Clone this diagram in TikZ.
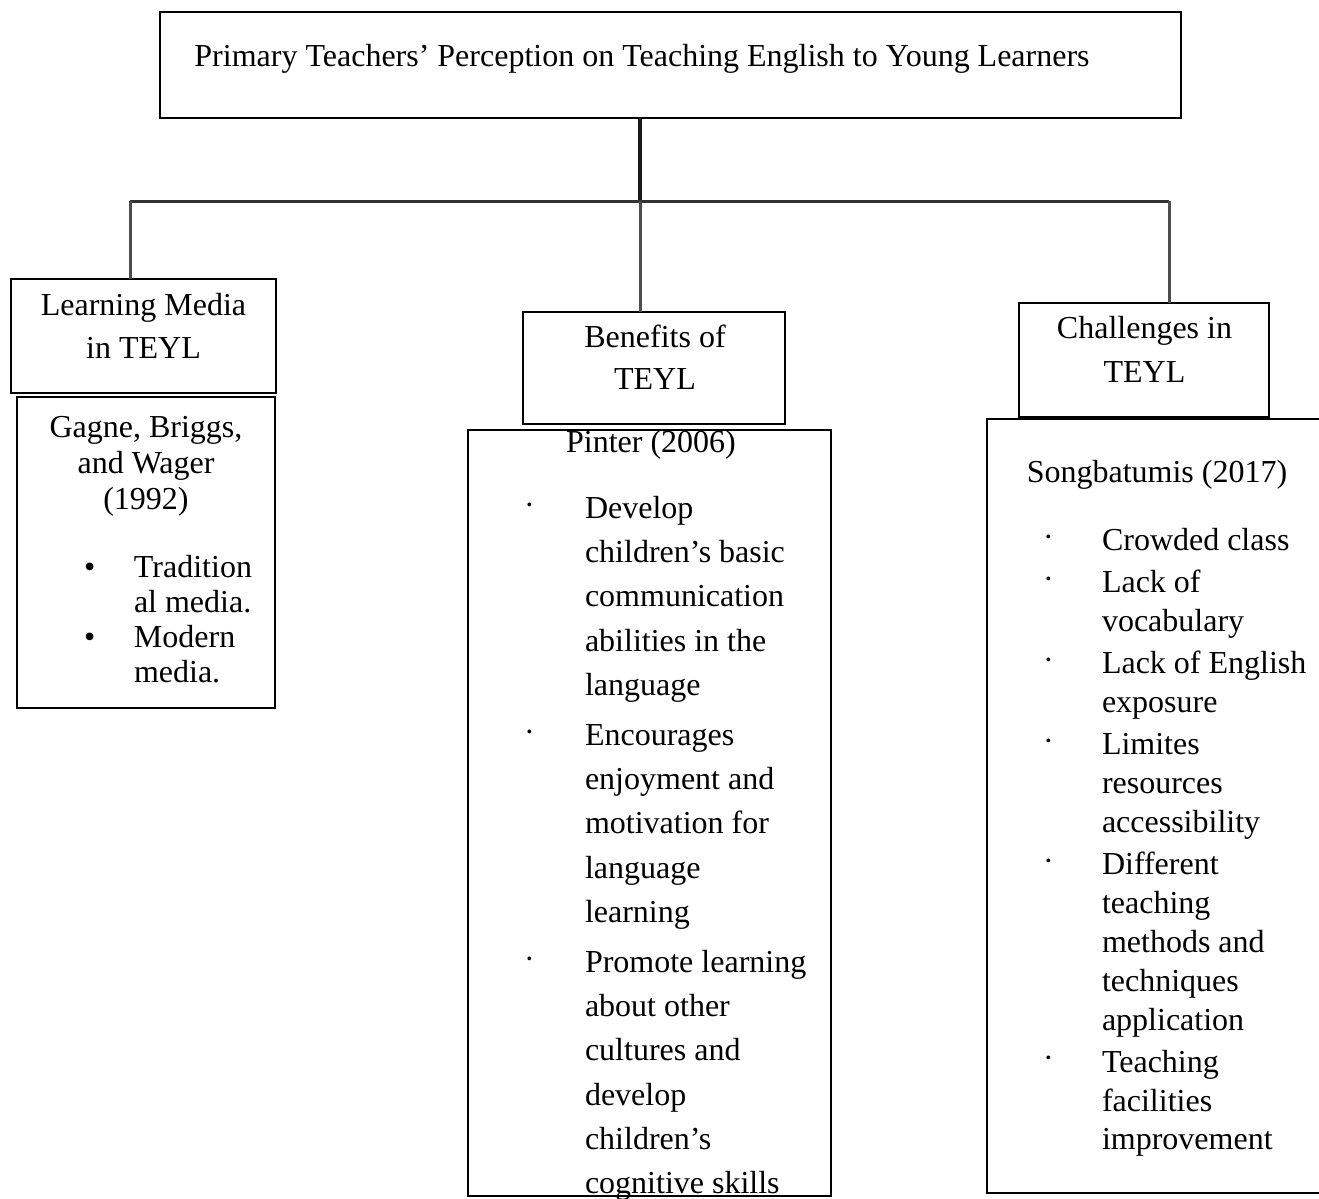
\documentclass[tikz,border=0pt]{standalone}
\usepackage{fontspec}
\setmainfont{Liberation Serif}
\usepackage{array}
\newcommand{\mystack}[2]{\fontsize{16}{#1}\selectfont\begin{tabular}[t]{@{}c@{}}#2\end{tabular}}
\newcommand{\mylist}[3]{\fontsize{16}{#1}\selectfont\begin{tabular}[t]{@{}p{#2}@{}l@{}}#3\end{tabular}}
\newcommand{\sdot}{\raisebox{1.5pt}{·}}
\begin{document}
\begin{tikzpicture}[x=0.5pt,y=-0.5pt,
  box/.style={draw=black, line width=1.3pt, inner sep=0pt, outer sep=0pt, anchor=north west},
  conn/.style={line width=1.5pt, draw=black!70},
  txt/.style={inner sep=0pt, outer sep=0pt, font=\fontsize{16}{19}\selectfont}]
\useasboundingbox (0,0) rectangle (1319,1199);
\clip (0,0) rectangle (1319,1199);
% boxes
\node[box, minimum width=510.5pt, minimum height=53pt] (top) at (160,12) {};
\node[box, minimum width=132.5pt, minimum height=57pt] (lm) at (11,279) {};
\node[box, minimum width=129pt, minimum height=155.5pt] (gw) at (17,397) {};
\node[box, minimum width=131pt, minimum height=56pt] (ben) at (523,312) {};
\node[box, minimum width=181.5pt, minimum height=383pt] (pin) at (468,430) {};
\node[box, minimum width=125pt, minimum height=57pt] (ch) at (1019,303) {};
\node[box, minimum width=180pt, minimum height=387pt] (song) at (987,419) {};
% connectors
\coordinate (hub) at (640,201);
\coordinate (jl) at (130,201);
\coordinate (jr) at (1169,201);
\draw[conn, draw=black!90, line width=1.7pt] (top.south -| hub) -- (hub);
\draw[conn, draw=black!80] (jl) -- (jr);
\draw[conn] (jl) -- (jl |- lm.north);
\draw[conn] (hub) -- (hub |- ben.north);
\draw[conn] (jr) -- (jr |- ch.north);
% texts
\node[txt, anchor=base] (toptxt) at (642,66) {Primary Teachers’ Perception on Teaching English to Young Learners};
\node[txt, anchor=base] (lmtxt) at (143.5,315) {\mystack{21.5pt}{Learning Media\\ in TEYL}};
\node[txt, anchor=base] (gwtxt) at (146,437) {\mystack{18pt}{Gagne, Briggs,\\ and Wager\\ (1992)}};
\node[txt, anchor=base west] (gwlist) at (84,577) {\mylist{17.5pt}{25pt}{%
• & Tradition\\ & al media.\\
• & Modern\\ & media.}};
\node[txt, anchor=base] (bentxt) at (655,347) {\mystack{21pt}{Benefits of\\ TEYL}};
\node[txt, anchor=base] (pintxt) at (651,452) {Pinter (2006)};
\node[txt, anchor=base west] (pinlist) at (524,518) {\mylist{22.2pt}{30.5pt}{%
\sdot & Develop\\ & children’s basic\\ & communication\\ & abilities in the\\ & language\\[2.5pt]
\sdot & Encourages\\ & enjoyment and\\ & motivation for\\ & language\\ & learning\\[2.5pt]
\sdot & Promote learning\\ & about other\\ & cultures and\\ & develop\\ & children’s\\ & cognitive skills}};
\node[txt, anchor=base] (chtxt) at (1144.5,338) {\mystack{22pt}{Challenges in\\ TEYL}};
\node[txt, anchor=base] (songtxt) at (1157,482) {Songbatumis (2017)};
\node[txt, anchor=base west] (songlist) at (1043,550) {\mylist{19.5pt}{29.5pt}{%
\sdot & Crowded class\\[1.5pt]
\sdot & Lack of\\ & vocabulary\\[1.5pt]
\sdot & Lack of English\\ & exposure\\[1.5pt]
\sdot & Limites\\ & resources\\ & accessibility\\[1.5pt]
\sdot & Different\\ & teaching\\ & methods and\\ & techniques\\ & application\\[1.5pt]
\sdot & Teaching\\ & facilities\\ & improvement}};
\end{tikzpicture}
\end{document}
